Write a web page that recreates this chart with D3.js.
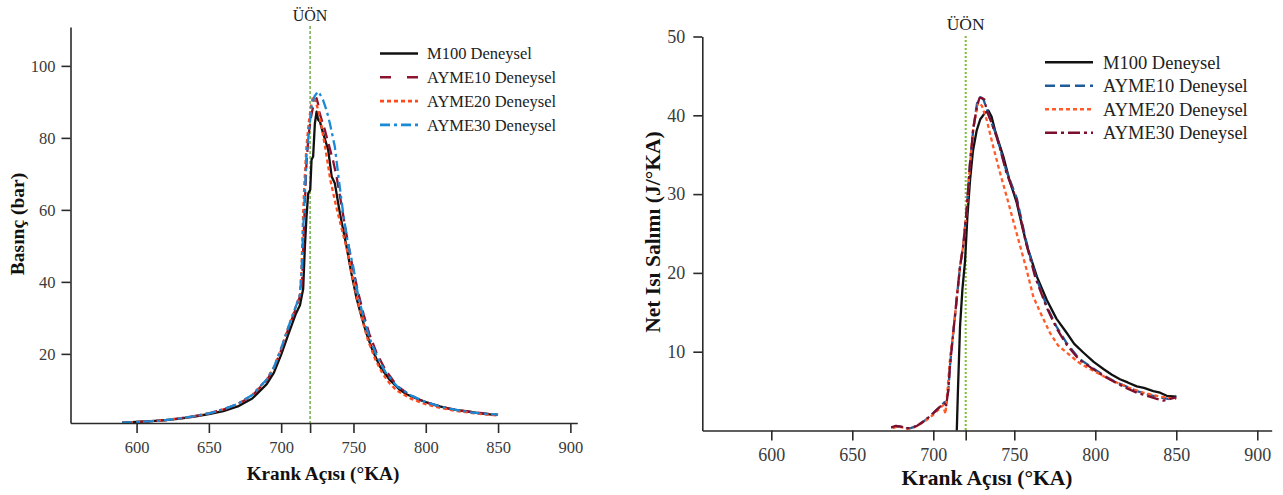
<!DOCTYPE html>
<html>
<head>
<meta charset="utf-8">
<script src="https://cdn.jsdelivr.net/npm/d3@7"></script>
<style>
  html, body { margin: 0; padding: 0; background: #fff; }
  svg { display: block; }
</style>
</head>
<body>
<svg id="chart" width="1283" height="495"></svg>
<script>
// ---- Shared labels ----
const seriesNames = ["M100 Deneysel", "AYME10 Deneysel", "AYME20 Deneysel", "AYME30 Deneysel"];
const xTicks = [600, 650, 700, 720, 750, 800, 850, 900];
const tdcAngle = 720;
const tdcLabel = "ÜÖN";
const xTitle = "Krank Açısı (°KA)";
const pressureTitle = "Basınç (bar)";
const heatTitle = "Net Isı Salımı (J/°KA)";
const pressureTicks = [20, 40, 60, 80, 100];
const heatTicks = [10, 20, 30, 40, 50];

// ---- Cylinder pressure (bar) ----
const pM100Angle = [590,600,610,620,630,640,650,660,670,680,690,695,700,705,710,713,715.2,716.4,717.5,718.7,720.1,721,722.1,723.3,724.5,725.6,726.8,729,732.5,734.9,737.1,740.6,745.2,748.5,752.1,755.5,759,763,768.3,775,782.1,787,793.6,800,809.7,818,828.2,838,849];
const pM100 = [0.9,1.1,1.3,1.6,2.0,2.6,3.3,4.1,5.4,7.6,11.6,14.8,19.8,25.5,31.0,33.5,38,49.8,58,64.6,65.6,73.9,74.8,84,87.3,85,84.5,81.3,76.7,69.3,67.4,59.1,49.8,42.5,35.5,30.5,25.7,21.2,16.5,12.8,10,8.7,7.6,6.6,5.4,4.6,4.0,3.5,3.0];

const pAyme10Angle = [590,600,610,620,630,640,650,660,670,680,690,695,700,705,710,713,714.5,715.5,716.5,717.5,719,720.5,722,723.5,724.5,725.5,726.5,728,730,733,736,738.3,741,745,749,753,757,761,766,772,780,788,796,805,815,825,835,845,850];
const pAyme10 = [0.9,1.1,1.3,1.6,2.1,2.7,3.5,4.5,6.0,8.4,12.6,16,21,27,32.5,36,40,52,63,73,81,85.5,88.5,90.2,91,89.5,87,85,82.5,78,73.5,69.3,63,53.5,45,37.5,31,25.5,20.3,15.6,11.2,8.8,7.2,5.9,4.9,4.2,3.7,3.3,3.1];

const pAyme20Angle = [590,600,610,620,630,640,650,660,670,680,690,695,700,705,710,713,714,715.2,716,717.5,719,720.5,722,723.5,725.6,728,731,734,738,742,745.2,750,755,760,765,770,775,780,790,800,810,820,830,840,850];
const pAyme20 = [0.9,1.1,1.3,1.6,2.1,2.7,3.5,4.6,6.1,8.6,12.9,16.3,21.5,27.5,33,36.5,43,59,67,77.6,84,88.5,91.5,90.5,87.8,83,76,68.3,61,54.5,49.5,40,31,23.8,18.5,14.6,11.8,9.8,7.5,6.0,5.0,4.2,3.7,3.2,2.9];

const pAyme30Angle = [590,600,610,620,630,640,650,660,670,680,690,695,700,705,710,713,714,715.5,716.4,717.5,719,721,723,725.5,727,729,731.5,733.7,737.1,740,742.9,746,749.8,753.3,757,761,766,772,780,790,800,810,820,830,840,850];
const pAyme30 = [0.9,1.1,1.3,1.6,2.1,2.7,3.5,4.6,6.1,8.6,12.9,16.3,21.5,27.5,33,36.5,42,57,64.7,74.8,81,88.7,91.5,92.9,92,90.5,87.5,84,77.6,68,59,51,44.3,36,30,24.5,19.5,15,11,8.4,6.6,5.4,4.5,3.8,3.4,3.1];

// ---- Net heat release rate (J/°KA) ----
const hM100Angle = [714.5,715.2,716.5,718,719.6,721,722.7,724.5,726.8,729,731.9,734,736,738.1,740.5,743.2,747,751.5,755,758,764,770,776,782.3,787,792.6,799,805,810,815.2,820,825.6,830,835.8,840,844.1,850];
const hM100 = [0,5,13.2,18,21.5,27,31.8,35.5,38.1,39.5,40.3,40.6,39.8,38.1,36.5,34.8,31.8,28.9,25.8,23.3,19.5,16.6,14.2,12.4,11,9.9,8.7,7.8,7.1,6.5,6.1,5.6,5.4,5.0,4.8,4.4,4.3];

const hAyme10Angle = [674,677,680,683,686,690,695,700,704,707,708,709.3,710.3,712.3,714.4,716.5,718.5,720.6,722.7,724.7,727,729,731,733,736,739,741.2,745,751.5,757,763,770,776,782.3,790,800.8,806,813.2,820,825.6,832,840,845,850];
const hAyme10 = [0.4,0.5,0.5,0.3,0.3,0.6,1.3,2.2,3.0,3.6,3.3,5.2,8.2,12.4,16.6,20.8,23.5,28,34,38.3,41.5,42.3,42,40.8,39,37.5,35.8,33,29.5,24.3,19.7,15.8,13.2,11.1,9.1,7.6,6.9,6.1,5.5,5.0,4.6,4.2,4.0,4.4];

const hAyme20Angle = [675,678,681,684,687,690,695,700,704,706,707.5,708.5,709.5,710.5,712.3,714.4,716.5,718.5,720.6,722.7,724.7,727.8,730,733,737,741.2,745.3,751.5,757.6,761.7,766,772,777,782.3,790,796.7,805,813.2,821,829.6,840,850];
const hAyme20 = [0.3,0.5,0.4,0.2,0.3,0.6,1.2,2.0,2.8,3.2,2.1,4.5,7,9.5,12.4,16.6,20.8,23.5,28,33.8,38.5,41.7,41.2,39.4,36,32.7,29.7,25,20.4,17,15,12.4,10.8,9.9,8.6,7.8,6.9,6.1,5.4,4.8,4.3,4.0];

const hAyme30Angle = [674,677,680,683,686,690,695,700,704,707,708,709.3,710.3,712.3,714.4,716.5,718.5,720.6,722.7,724.7,727,728.5,730,731.5,733,736,739,741.2,745,751.5,757,763,770,776,782.3,790,800.8,806,813.2,820,825.6,832,838,842,846,850];
const hAyme30 = [0.4,0.6,0.5,0.3,0.3,0.6,1.3,2.2,3.0,3.4,3.2,5.2,8.2,12.4,16.6,20.8,23.5,28,34,38.3,41.2,42.2,42.2,42,40.6,39,37.3,35.8,32.8,29.2,24,19.4,15.6,13,10.9,9,7.5,6.8,6.0,5.3,4.8,4.4,4.0,3.8,4.0,4.2];

const zip = (a, v) => a.map((x, i) => ({ x, y: v[i] }));

const svg = d3.select("#chart");
const serif = "'Liberation Serif', 'Times New Roman', serif";

function drawPanel(cfg) {
  const g = svg.append("g");
  const x = d3.scaleLinear().domain(cfg.xDomain).range(cfg.xRange);
  const y = d3.scaleLinear().domain(cfg.yDomain).range(cfg.yRange);
  const axisY0 = cfg.yRange[0];

  // top-dead-centre marker
  g.append("line")
    .attr("x1", x(tdcAngle)).attr("x2", x(tdcAngle))
    .attr("y1", cfg.tdcTop).attr("y2", axisY0)
    .attr("stroke", cfg.tdcColor).attr("stroke-width", cfg.tdcWidth)
    .attr("stroke-dasharray", cfg.tdcDash);
  g.append("text")
    .attr("x", x(tdcAngle)).attr("y", cfg.tdcLabelY)
    .attr("text-anchor", "middle")
    .attr("font-family", serif).attr("font-size", cfg.tdcFont)
    .attr("fill", "#222")
    .text(tdcLabel);

  // curves
  const line = d3.line().x(d => x(d.x)).y(d => y(d.y));
  cfg.series.forEach(s => {
    g.append("path")
      .datum(zip(s.angle, s.values))
      .attr("fill", "none")
      .attr("stroke", s.color)
      .attr("stroke-width", cfg.lineWidth)
      .attr("stroke-dasharray", s.dash)
      .attr("stroke-linejoin", "round")
      .attr("d", line);
  });

  // axes
  const xAxis = d3.axisBottom(x).tickValues(xTicks)
    .tickFormat(d => d === tdcAngle ? "" : d)
    .tickSize(10).tickPadding(cfg.xPad).tickSizeOuter(0);
  const yAxis = d3.axisLeft(y).tickValues(cfg.yTicks)
    .tickSize(9).tickPadding(cfg.yPad).tickSizeOuter(0);

  const gx = g.append("g").attr("transform", `translate(0,${axisY0})`).call(xAxis);
  const gy = g.append("g").attr("transform", `translate(${cfg.xRange[0]},0)`).call(yAxis);
  [gx, gy].forEach(a => {
    a.attr("font-family", serif).attr("font-size", cfg.tickFont);
    a.selectAll("path, line").attr("stroke", "#2a2a2a").attr("stroke-width", 1.6);
    a.selectAll("text").attr("fill", "#3a3a3a");
  });

  // axis titles
  g.append("text")
    .attr("x", cfg.xTitleX).attr("y", cfg.xTitleY)
    .attr("text-anchor", "middle")
    .attr("font-family", serif).attr("font-weight", "bold")
    .attr("font-size", cfg.xTitleFont).attr("fill", "#111")
    .text(xTitle);
  g.append("text")
    .attr("transform", `translate(${cfg.yTitleX},${cfg.yTitleY}) rotate(-90)`)
    .attr("text-anchor", "middle")
    .attr("font-family", serif).attr("font-weight", "bold")
    .attr("font-size", cfg.yTitleFont).attr("fill", "#111")
    .text(cfg.yTitle);

  // legend
  const lg = g.append("g");
  cfg.series.forEach((s, i) => {
    const cy = cfg.legendY + i * cfg.legendStep;
    lg.append("line")
      .attr("x1", cfg.legendX1).attr("x2", cfg.legendX2)
      .attr("y1", cy).attr("y2", cy)
      .attr("stroke", s.color).attr("stroke-width", 2.6)
      .attr("stroke-dasharray", s.legendDash || s.dash);
    lg.append("text")
      .attr("x", cfg.legendTextX).attr("y", cy)
      .attr("dy", "0.34em")
      .attr("font-family", serif).attr("font-size", cfg.legendFont)
      .attr("fill", "#222")
      .text(s.name);
  });
}

// Left: cylinder pressure
drawPanel({
  xDomain: [554.3, 904.8], xRange: [70.5, 577.3],
  yDomain: [0.8, 110.8], yRange: [423, 27],
  yTicks: pressureTicks, yTitle: pressureTitle,
  tickFont: 16.5, xPad: 8, yPad: 6, lineWidth: 2.3,
  tdcTop: 26, tdcColor: "#4f9a22", tdcWidth: 1.2, tdcDash: "3,2",
  tdcLabelY: 20.5, tdcFont: 16,
  xTitleX: 323, xTitleY: 480, xTitleFont: 19.2,
  yTitleX: 24, yTitleY: 224, yTitleFont: 19.5,
  legendX1: 380, legendX2: 418, legendTextX: 427, legendY: 53.5, legendStep: 23.8, legendFont: 16.5,
  series: [
    { name: seriesNames[0], angle: pM100Angle, values: pM100, color: "#111111", dash: null },
    { name: seriesNames[1], angle: pAyme10Angle, values: pAyme10, color: "#8c1430", dash: "11,6", legendDash: "11,16" },
    { name: seriesNames[2], angle: pAyme20Angle, values: pAyme20, color: "#ff4a1c", dash: "4,3" },
    { name: seriesNames[3], angle: pAyme30Angle, values: pAyme30, color: "#1a8ad6", dash: "10,4,3,4" }
  ]
});

// Right: net heat release rate
drawPanel({
  xDomain: [557.4, 908.9], xRange: [702.3, 1271.7],
  yDomain: [0, 50], yRange: [430.5, 36.5],
  yTicks: heatTicks, yTitle: heatTitle,
  tickFont: 18, xPad: 7.5, yPad: 8, lineWidth: 2.3,
  tdcTop: 36, tdcColor: "#7dbd3c", tdcWidth: 2, tdcDash: "2,2",
  tdcLabelY: 30, tdcFont: 17.5,
  xTitleX: 987, xTitleY: 485, xTitleFont: 21.5,
  yTitleX: 660, yTitleY: 232, yTitleFont: 21.5,
  legendX1: 1045, legendX2: 1093, legendTextX: 1103, legendY: 62.3, legendStep: 23.5, legendFont: 18.5,
  series: [
    { name: seriesNames[0], angle: hM100Angle, values: hM100, color: "#111111", dash: null },
    { name: seriesNames[1], angle: hAyme10Angle, values: hAyme10, color: "#1f5c9c", dash: "10,5" },
    { name: seriesNames[2], angle: hAyme20Angle, values: hAyme20, color: "#ff5a28", dash: "4,3" },
    { name: seriesNames[3], angle: hAyme30Angle, values: hAyme30, color: "#7d0f2e", dash: "12,4,3,4" }
  ]
});
</script>
</body>
</html>
